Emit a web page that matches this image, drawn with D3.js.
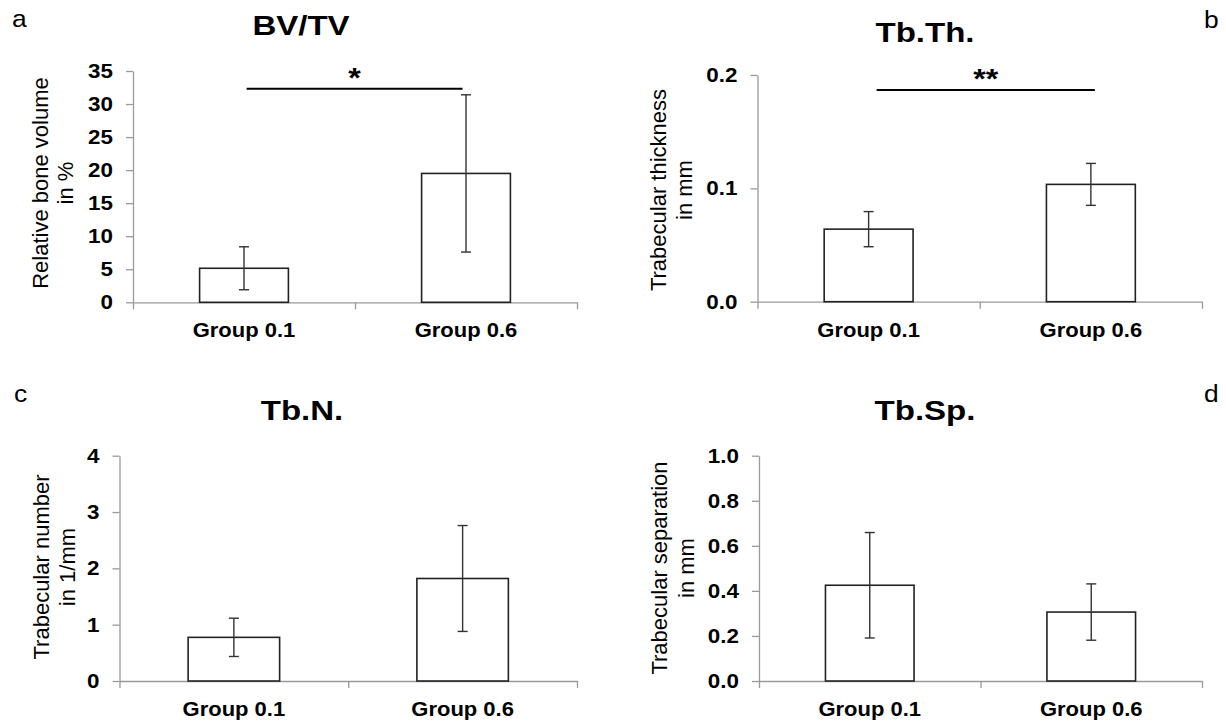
<!DOCTYPE html>
<html>
<head>
<meta charset="utf-8">
<script src="https://cdn.jsdelivr.net/npm/d3@7"></script>
<style>
  body { margin: 0; background: #fff; }
  svg text { font-family: "Liberation Sans", Arial, sans-serif; fill: #000; }
</style>
</head>
<body>
<svg width="1226" height="723"></svg>
<script>
const categories = ['Group 0.1', 'Group 0.6']

// means and standard deviations per group
const bvtvMean = [5.15, 19.5]
const bvtvSd = [3.25, 11.9]
const tbthMean = [0.064, 0.1035]
const tbthSd = [0.0155, 0.0185]
const tbnMean = [0.775, 1.82]
const tbnSd = [0.34, 0.94]
const tbspMean = [0.425, 0.306]
const tbspSd = [0.234, 0.125]

// tick labels
const bvtvTicks = [0, 5, 10, 15, 20, 25, 30, 35]
const tbthTicks = [0, 0.1, 0.2]
const tbnTicks = [0, 1, 2, 3, 4]
const tbspTicks = [0, 0.2, 0.4, 0.6, 0.8, 1.0]

const panels = [
  {
    letter: 'a', letterPos: [12, 27],
    title: 'BV/TV', titlePos: [301, 35],
    label: ['Relative bone volume', 'in %'], labelX: [48, 73], labelY: 183,
    mean: bvtvMean, sd: bvtvSd, ticks: bvtvTicks, fmt: d3.format('d'),
    left: 133, right: 577, top: 71, bottom: 302.3,
    sig: { y: 32.3, mark: '*', dx: [2.6, -3.5] }
  },
  {
    letter: 'b', letterPos: [1204, 28],
    title: 'Tb.Th.', titlePos: [925, 42],
    label: ['Trabecular thickness', 'in mm'], labelX: [666, 692], labelY: 190,
    mean: tbthMean, sd: tbthSd, ticks: tbthTicks, fmt: d3.format('.1f'),
    left: 757.5, right: 1202, top: 75, bottom: 301.7,
    sig: { y: 0.1868, mark: '**', dx: [8, 4] }
  },
  {
    letter: 'c', letterPos: [14, 402],
    title: 'Tb.N.', titlePos: [302, 420],
    label: ['Trabecular number', 'in 1/mm'], labelX: [49, 75], labelY: 567,
    mean: tbnMean, sd: tbnSd, ticks: tbnTicks, fmt: d3.format('d'),
    left: 119.5, right: 577, top: 455.7, bottom: 681
  },
  {
    letter: 'd', letterPos: [1204, 402],
    title: 'Tb.Sp.', titlePos: [925, 420],
    label: ['Trabecular separation', 'in mm'], labelX: [667, 694], labelY: 568,
    mean: tbspMean, sd: tbspSd, ticks: tbspTicks, fmt: d3.format('.1f'),
    left: 759, right: 1202, top: 455.7, bottom: 681
  }
]

const svg = d3.select('svg')
const axisColor = '#9a9a9a'

panels.forEach(p => {
  const g = svg.append('g')
  const rows = categories.map((c, i) => ({ cat: c, mean: p.mean[i], sd: p.sd[i] }))

  const y = d3.scaleLinear().domain([0, d3.max(p.ticks)]).range([p.bottom, p.top])
  const x = d3.scaleBand()
    .domain(categories)
    .range([p.left, p.right])
    .paddingInner(0.6)
    .paddingOuter(0.3)
  // category boundaries for the x ticks
  const xEdge = d3.scaleLinear().domain([0, categories.length]).range([p.left, p.right])
  const cx = d => x(d) + x.bandwidth() / 2

  // y axis
  const ya = g.append('g')
    .attr('transform', `translate(${p.left},0)`)
    .call(d3.axisLeft(y).tickValues(p.ticks).tickFormat(p.fmt).tickSize(7).tickSizeOuter(0).tickPadding(11))
  ya.selectAll('line, path').attr('stroke', axisColor).attr('stroke-width', 1.3)
  ya.selectAll('text')
    .attr('font-size', 20)
    .attr('font-weight', 'bold')
    .attr('transform', 'scale(1.12,1)')

  // x axis
  const xa = g.append('g')
    .attr('transform', `translate(0,${p.bottom})`)
    .call(d3.axisBottom(xEdge).tickValues(d3.range(categories.length + 1)).tickFormat('').tickSize(7).tickSizeOuter(0))
  xa.selectAll('line, path').attr('stroke', axisColor).attr('stroke-width', 1.3)

  g.selectAll('.cat')
    .data(categories)
    .join('text')
    .attr('class', 'cat')
    .attr('transform', d => `translate(${cx(d)},${p.bottom + 35}) scale(1.1,1)`)
    .attr('text-anchor', 'middle')
    .attr('font-size', 20)
    .attr('font-weight', 'bold')
    .text(d => d)

  // bars
  g.selectAll('.bar')
    .data(rows)
    .join('rect')
    .attr('class', 'bar')
    .attr('x', d => x(d.cat))
    .attr('y', d => y(d.mean))
    .attr('width', x.bandwidth())
    .attr('height', d => p.bottom - y(d.mean))
    .attr('fill', '#fff')
    .attr('stroke', '#222')
    .attr('stroke-width', 1.6)

  // error bars
  const eb = g.selectAll('.err')
    .data(rows)
    .join('g')
    .attr('class', 'err')
    .attr('stroke', '#333')
    .attr('stroke-width', 1.4)
  eb.append('line')
    .attr('x1', d => cx(d.cat)).attr('x2', d => cx(d.cat))
    .attr('y1', d => y(d.mean + d.sd)).attr('y2', d => y(d.mean - d.sd))
  eb.append('line')
    .attr('x1', d => cx(d.cat) - 5).attr('x2', d => cx(d.cat) + 5)
    .attr('y1', d => y(d.mean + d.sd)).attr('y2', d => y(d.mean + d.sd))
  eb.append('line')
    .attr('x1', d => cx(d.cat) - 5).attr('x2', d => cx(d.cat) + 5)
    .attr('y1', d => y(d.mean - d.sd)).attr('y2', d => y(d.mean - d.sd))

  // significance bracket
  if (p.sig) {
    const x1 = cx(categories[0]) + p.sig.dx[0]
    const x2 = cx(categories[1]) + p.sig.dx[1]
    g.append('line')
      .attr('x1', x1).attr('x2', x2)
      .attr('y1', y(p.sig.y)).attr('y2', y(p.sig.y))
      .attr('stroke', '#000')
      .attr('stroke-width', 2)
    g.append('text')
      .attr('transform', `translate(${(x1 + x2) / 2},${y(p.sig.y) - 2}) scale(1.15,1)`)
      .attr('text-anchor', 'middle')
      .attr('font-size', 28)
      .attr('font-weight', 'bold')
      .text(p.sig.mark)
  }

  // title and panel letter
  g.append('text')
    .attr('transform', `translate(${p.titlePos[0]},${p.titlePos[1]}) scale(1.18,1)`)
    .attr('text-anchor', 'middle')
    .attr('font-size', 28)
    .attr('font-weight', 'bold')
    .text(p.title)
  g.append('text')
    .attr('transform', `translate(${p.letterPos[0]},${p.letterPos[1]}) scale(1.1,1)`)
    .attr('font-size', 24)
    .text(p.letter)

  // y axis label, two lines
  p.label.forEach((line, i) => {
    g.append('text')
      .attr('transform', `translate(${p.labelX[i]},${p.labelY}) rotate(-90)`)
      .attr('text-anchor', 'middle')
      .attr('font-size', 22)
      .text(line)
  })
})
</script>
</body>
</html>
